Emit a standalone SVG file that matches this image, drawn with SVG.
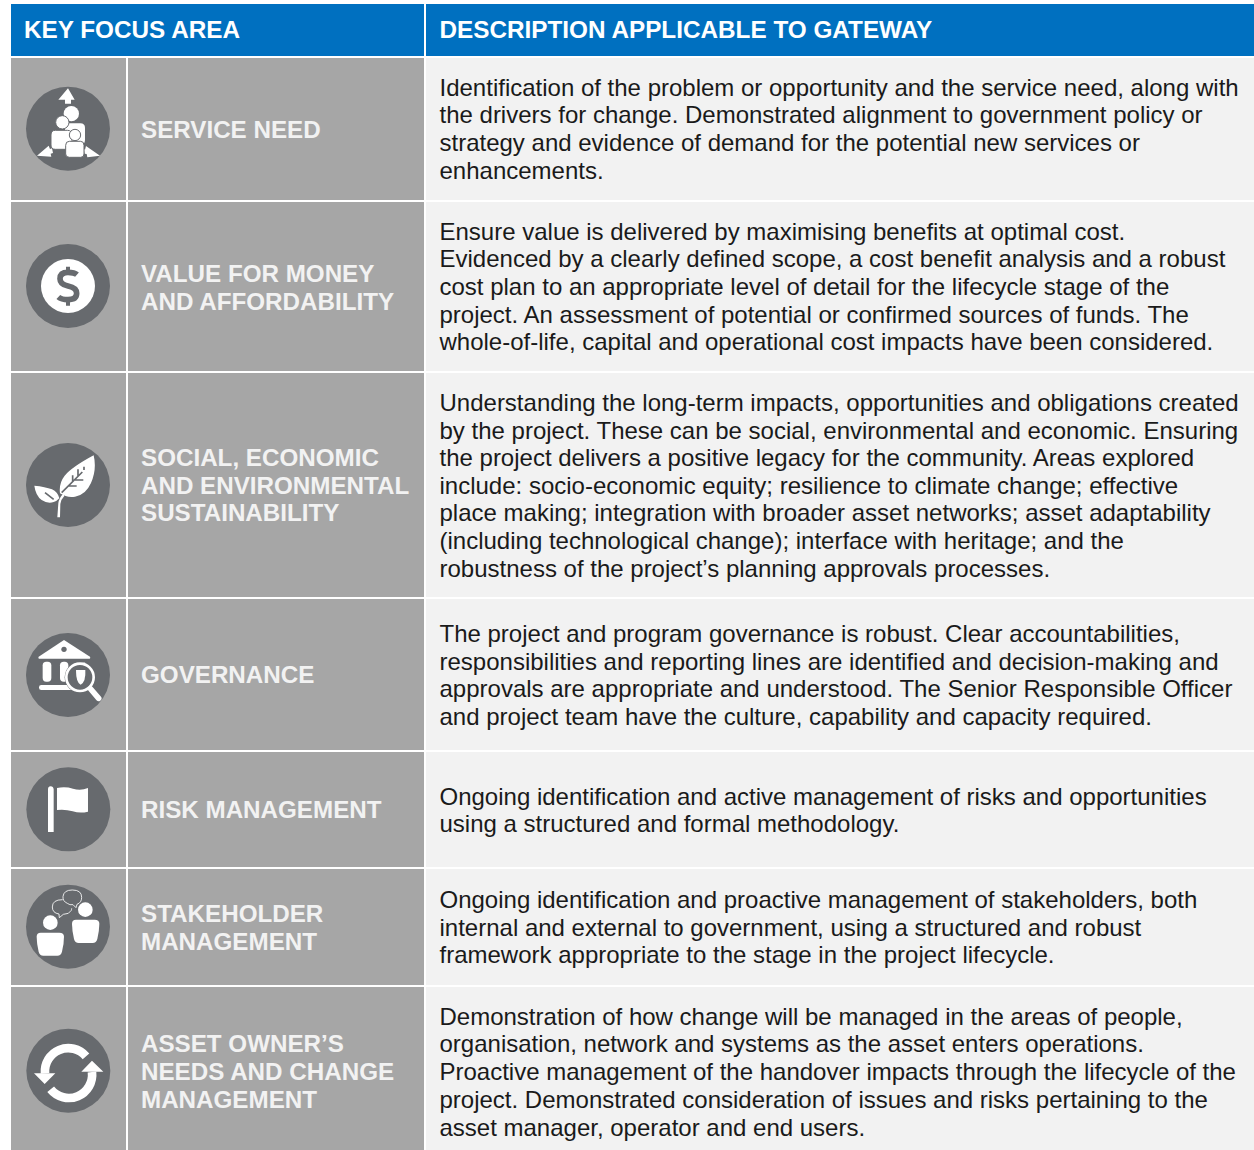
<svg xmlns="http://www.w3.org/2000/svg" width="1254" height="1150" viewBox="0 0 1254 1150">
<style>
.hd{fill:#0070c0}.g{fill:#a6a6a6}.d{fill:#f2f2f2}
text{font-family:"Liberation Sans",Arial,sans-serif}
.ht{font-size:24.3px;font-weight:700;fill:#fff}
.lb{font-size:24.2px;font-weight:700;fill:#f2f2f2}
.ds{font-size:24px;fill:#1a1a1a}
.c{fill:#676a6e}.w{fill:#fff}.ol{fill:#fff;stroke:#676a6e;stroke-width:3}
</style>
<rect width="1254" height="1150" fill="#fff"/>
<g id="header">
<rect class="hd" x="11" y="4" width="413" height="52"/>
<rect class="hd" x="426" y="4" width="828" height="52"/>
<text class="ht" x="24" y="37.5">KEY FOCUS AREA</text>
<text class="ht" x="439.5" y="37.5">DESCRIPTION APPLICABLE TO GATEWAY</text>
</g>
<g id="row-service-need">
<rect class="g" x="11" y="58" width="115" height="142"/><rect class="g" x="128" y="58" width="296" height="142"/><rect class="d" x="426" y="58" width="828" height="142"/>
<g transform="scale(.3333)">
<circle class="c" cx="204" cy="386" r="126"/>
<path class="w" d="M204 265l20 34h-11v12h-18v-12h-20z"/>
<path class="w" d="M111 467L146 437 150 447 156 445 159 459 152 461 154 470z"/>
<path class="w" d="M300 467L258 438 255 449 252 447 254 461 260 462 262 472z"/>
<circle class="w" cx="214" cy="341" r="23"/>
<path class="w" d="M195 370h46q14 0 14 14v36q0 14-14 14h-46z"/>
<circle class="ol" cx="187" cy="367" r="20"/>
<path class="ol" d="M166 391h36q14 0 14 14v30q0 13-14 13h-36q-13 0-13-13v-30q0-14 13-14z"/>
<circle class="ol" cx="225" cy="405" r="17"/>
<path class="ol" d="M208 424h34q10 0 10 12v26q0 10-10 10h-34q-11 0-11-10v-26q0-12 11-12z"/>
</g>
<text class="lb" x="141" y="137.5">SERVICE NEED</text>
<text class="ds"><tspan x="439.5" y="96">Identification of the problem or opportunity and the service need, along with</tspan><tspan x="439.5" y="123">the drivers for change. Demonstrated alignment to government policy or</tspan><tspan x="439.5" y="151">strategy and evidence of demand for the potential new services or</tspan><tspan x="439.5" y="179">enhancements.</tspan></text>
</g>
<g id="row-value-for-money">
<rect class="g" x="11" y="202" width="115" height="169"/><rect class="g" x="128" y="202" width="296" height="169"/><rect class="d" x="426" y="202" width="828" height="169"/>
<g transform="translate(0 230) scale(.3333)">
<circle class="c" cx="204" cy="168" r="126"/>
<circle class="w" cx="204" cy="168" r="81"/>
<path fill="none" stroke="#676a6e" stroke-width="17" d="M231 134q-8-7-27-7-24 0-24 19 0 17 24 22 26 5 26 22 0 19-26 19-20 0-29-8"/>
<path stroke="#676a6e" stroke-width="12" d="M204 110v16M204 210v17"/>
</g>
<text class="lb"><tspan x="141" y="281.5">VALUE FOR MONEY</tspan><tspan x="141" y="309.5">AND AFFORDABILITY</tspan></text>
<text class="ds"><tspan x="439.5" y="240">Ensure value is delivered by maximising benefits at optimal cost.</tspan><tspan x="439.5" y="267">Evidenced by a clearly defined scope, a cost benefit analysis and a robust</tspan><tspan x="439.5" y="295">cost plan to an appropriate level of detail for the lifecycle stage of the</tspan><tspan x="439.5" y="323">project. An assessment of potential or confirmed sources of funds. The</tspan><tspan x="439.5" y="350">whole-of-life, capital and operational cost impacts have been considered.</tspan></text>
</g>
<g id="row-sustainability">
<rect class="g" x="11" y="373" width="115" height="224"/><rect class="g" x="128" y="373" width="296" height="224"/><rect class="d" x="426" y="373" width="828" height="224"/>
<g transform="translate(10 430) scale(.3333)">
<circle class="c" cx="174" cy="165" r="126"/>
<path class="w" d="M142 262l3-42q2-16 14-28l4 6q-10 10-12 24l-1 40zM148 205q-5-20-22-27-20-8-53-11 4 30 22 43 18 12 36 6 10-3 17-11zM150 190q-4-30 14-53 22-26 87-61 10 42-8 83-16 36-48 41-24 4-45-10z"/>
<path fill="none" stroke="#676a6e" stroke-width="5" d="M155 188l62-62M188 156v-20M204 140v-22M222 120v-10M176 168h24M195 150h25M105 188l26 20"/>
</g>
<text class="lb"><tspan x="141" y="466">SOCIAL, ECONOMIC</tspan><tspan x="141" y="493.5">AND ENVIRONMENTAL</tspan><tspan x="141" y="521">SUSTAINABILITY</tspan></text>
<text class="ds"><tspan x="439.5" y="411">Understanding the long-term impacts, opportunities and obligations created</tspan><tspan x="439.5" y="439">by the project. These can be social, environmental and economic. Ensuring</tspan><tspan x="439.5" y="466">the project delivers a positive legacy for the community. Areas explored</tspan><tspan x="439.5" y="494">include: socio-economic equity; resilience to climate change; effective</tspan><tspan x="439.5" y="521">place making; integration with broader asset networks; asset adaptability</tspan><tspan x="439.5" y="549">(including technological change); interface with heritage; and the</tspan><tspan x="439.5" y="577">robustness of the project’s planning approvals processes.</tspan></text>
</g>
<g id="row-governance">
<rect class="g" x="11" y="599" width="115" height="151"/><rect class="g" x="128" y="599" width="296" height="151"/><rect class="d" x="426" y="599" width="828" height="151"/>
<g transform="translate(10 625) scale(.3333)">
<circle class="c" cx="174" cy="150" r="126"/>
<path class="w" d="M162 45l78 50q3 6-4 6H90q-7 0-4-6z"/>
<circle class="c" cx="162" cy="73" r="8"/>
<rect class="w" x="98" y="110" width="26" height="60" rx="11"/>
<rect class="w" x="150" y="110" width="25" height="60" rx="11"/>
<rect class="w" x="200" y="112" width="26" height="8" rx="3"/>
<rect class="w" x="87" y="180" width="120" height="15" rx="7"/>
<circle class="c" cx="210" cy="157" r="46"/>
<circle fill="none" stroke="#fff" stroke-width="8" cx="210" cy="157" r="41"/>
<path class="w" d="M198 135h28q2 36-14 44-14-6-14-44z"/>
<path stroke="#fff" stroke-width="17" stroke-linecap="round" d="M242 192l24 28"/>
</g>
<text class="lb" x="141" y="682.5">GOVERNANCE</text>
<text class="ds"><tspan x="439.5" y="642">The project and program governance is robust. Clear accountabilities,</tspan><tspan x="439.5" y="670">responsibilities and reporting lines are identified and decision-making and</tspan><tspan x="439.5" y="697">approvals are appropriate and understood. The Senior Responsible Officer</tspan><tspan x="439.5" y="725">and project team have the culture, capability and capacity required.</tspan></text>
</g>
<g id="row-risk">
<rect class="g" x="11" y="752" width="115" height="115"/><rect class="g" x="128" y="752" width="296" height="115"/><rect class="d" x="426" y="752" width="828" height="115"/>
<g transform="translate(10 760) scale(.3333)">
<circle class="c" cx="175" cy="148" r="126"/>
<path class="w" d="M114 88q0-9 8-9t9 9v128h-17zM141 84q25-5 48 2t45-2v71q-24 6-46-1t-47-4z"/>
</g>
<text class="lb" x="141" y="817.5">RISK MANAGEMENT</text>
<text class="ds"><tspan x="439.5" y="805">Ongoing identification and active management of risks and opportunities</tspan><tspan x="439.5" y="832">using a structured and formal methodology.</tspan></text>
</g>
<g id="row-stakeholder">
<rect class="g" x="11" y="869" width="115" height="116"/><rect class="g" x="128" y="869" width="296" height="116"/><rect class="d" x="426" y="869" width="828" height="116"/>
<g transform="translate(10 875) scale(.3333)">
<circle class="c" cx="174" cy="155" r="126"/>
<circle class="w" cx="121" cy="143" r="22"/>
<path class="w" d="M92 173h56q14 0 14 12 0 20-6 45-3 12-14 12h-42q-11 0-14-12-6-25-6-45 0-12 12-12z"/>
<circle class="w" cx="226" cy="104" r="22"/>
<path class="w" d="M198 134h56q14 0 14 12 0 20-6 46-3 12-14 12h-42q-11 0-14-12-6-26-6-46 0-12 12-12z"/>
<g fill="none" stroke="#fff" stroke-width="2.5"><path d="M172 85q-14-6-13-20 2-20 28-20 28 0 28 22 0 16-14 21l-3 10-9-9q-10 2-17-4z"/><path d="M158 74q-31 0-31 22 0 18 20 21l1 11 12-10q18 0 24-12 1-3 1-6"/></g>
</g>
<text class="lb"><tspan x="141" y="921.5">STAKEHOLDER</tspan><tspan x="141" y="949.5">MANAGEMENT</tspan></text>
<text class="ds"><tspan x="439.5" y="908">Ongoing identification and proactive management of stakeholders, both</tspan><tspan x="439.5" y="936">internal and external to government, using a structured and robust</tspan><tspan x="439.5" y="963">framework appropriate to the stage in the project lifecycle.</tspan></text>
</g>
<g id="row-asset-owner">
<rect class="g" x="11" y="987" width="115" height="163"/><rect class="g" x="128" y="987" width="296" height="163"/><rect class="d" x="426" y="987" width="828" height="163"/>
<g transform="translate(10 1020) scale(.3333)">
<circle class="c" cx="175" cy="152" r="126"/>
<g fill="none" stroke="#fff" stroke-width="26"><path d="M228 109A70 70 0 0 0 105 160"/><path d="M122 208A70 70 0 0 0 246 156"/></g>
<path class="w" d="M72 160h64l-32 32zM214 155h66l-34-33z"/>
</g>
<text class="lb"><tspan x="141" y="1051.5">ASSET OWNER’S</tspan><tspan x="141" y="1079.5">NEEDS AND CHANGE</tspan><tspan x="141" y="1107.5">MANAGEMENT</tspan></text>
<text class="ds"><tspan x="439.5" y="1025">Demonstration of how change will be managed in the areas of people,</tspan><tspan x="439.5" y="1052">organisation, network and systems as the asset enters operations.</tspan><tspan x="439.5" y="1080">Proactive management of the handover impacts through the lifecycle of the</tspan><tspan x="439.5" y="1108">project. Demonstrated consideration of issues and risks pertaining to the</tspan><tspan x="439.5" y="1136">asset manager, operator and end users.</tspan></text>
</g>
</svg>
